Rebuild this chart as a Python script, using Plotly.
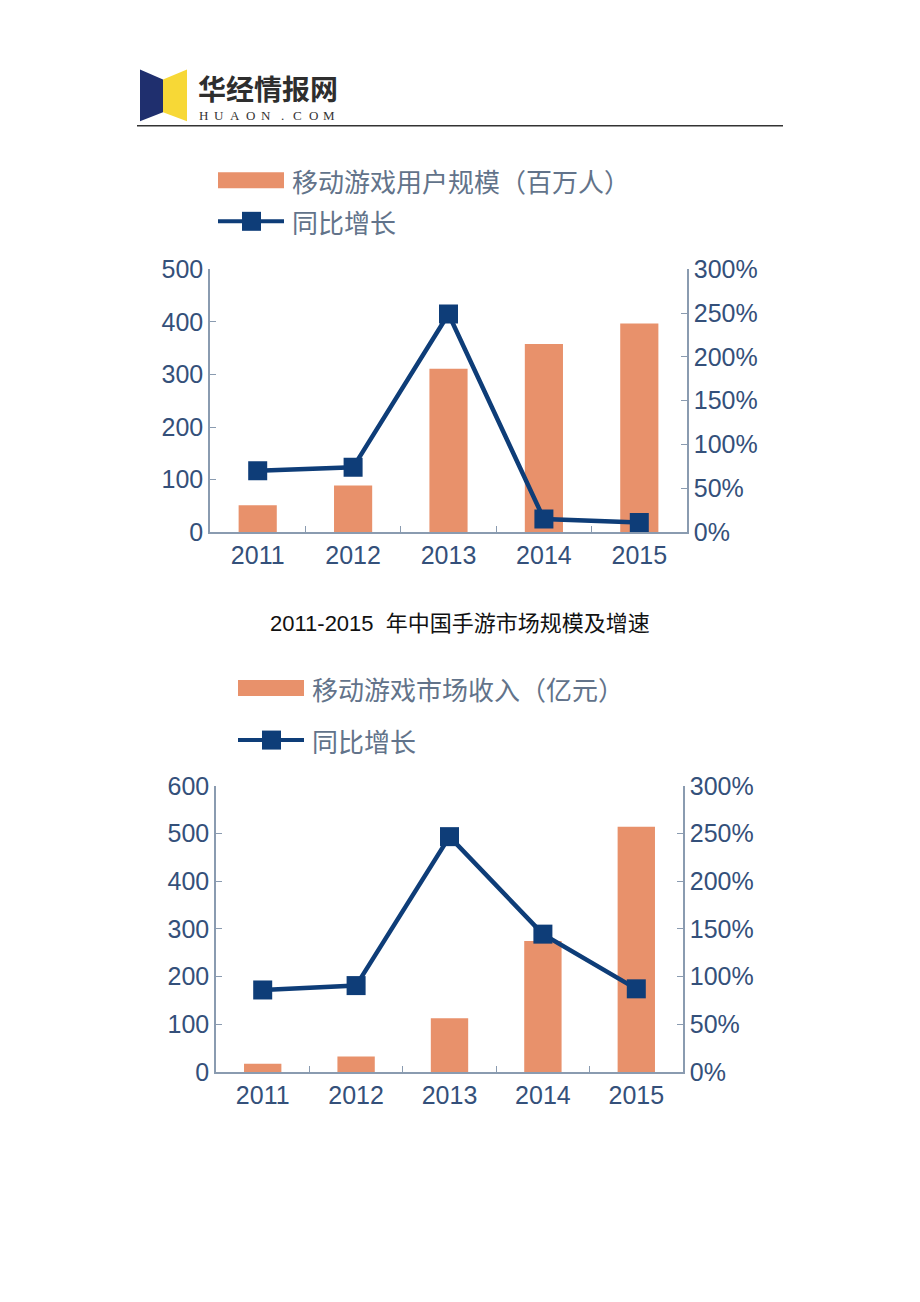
import plotly.graph_objects as go

W, H = 920, 1302

years = ["2011", "2012", "2013", "2014", "2015"]
users = [51, 89, 311, 358, 397]          # 移动游戏用户规模（百万人）
users_growth = [0.70, 0.74, 2.49, 0.15, 0.11]
revenue = [17, 32.4, 112.4, 274.9, 514.6]  # 移动游戏市场收入（亿元）
revenue_growth = [0.86, 0.906, 2.469, 1.446, 0.872]
logo_letters = list("HUAON.COM")

BAR = "#E8916B"
NAVY = "#0E3D78"
AXIS = "#8A9BB0"
TICK = "#34507A"
LEG = "#62738A"
FONT = "Liberation Sans, Arial, sans-serif"
CJK = "Noto Sans CJK SC"


def px(x):
    return x / W


def py(y):
    # compensate the observed vertical rendering scale
    y = y - (2.5 - 4.5 * (y - 125) / 947)
    t = (y - 10.56) / 0.9836
    return 1 - t / H


fig = go.Figure()

fig.add_trace(go.Bar(x=years, y=users, marker=dict(color=BAR, line=dict(width=0)),
                     xaxis="x", yaxis="y", showlegend=False))
fig.add_trace(go.Scatter(x=years, y=users_growth, mode="lines+markers",
                         line=dict(color=NAVY, width=4.5),
                         marker=dict(symbol="square", size=19, color=NAVY),
                         xaxis="x", yaxis="y2", showlegend=False))
fig.add_trace(go.Bar(x=years, y=revenue, marker=dict(color=BAR, line=dict(width=0)),
                     xaxis="x2", yaxis="y3", showlegend=False))
fig.add_trace(go.Scatter(x=years, y=revenue_growth, mode="lines+markers",
                         line=dict(color=NAVY, width=4.5),
                         marker=dict(symbol="square", size=19, color=NAVY),
                         xaxis="x2", yaxis="y4", showlegend=False))

tickfont = dict(family=FONT, size=25, color=TICK)

xcommon = dict(type="category", showline=True, linecolor=AXIS, linewidth=1.5,
               ticks="inside", tickson="boundaries", ticklen=6, tickcolor=AXIS,
               tickfont=tickfont, showgrid=False, zeroline=False, fixedrange=True)
ycommon = dict(showline=True, linecolor=AXIS, linewidth=1.5, ticks="inside",
               ticklen=6, tickcolor=AXIS, tickfont=tickfont, showgrid=False,
               zeroline=False, fixedrange=True)

top_dom = [py(532), py(269)]
bot_dom = [py(1072), py(786)]

fig.update_layout(
    width=W, height=H, autosize=False,
    margin=dict(l=0, r=0, t=0, b=0),
    paper_bgcolor="white", plot_bgcolor="white",
    bargap=0.6,
    xaxis=dict(domain=[px(210), px(687)], anchor="y", **xcommon),
    yaxis=dict(domain=top_dom, anchor="x", range=[0, 500], dtick=100, **ycommon),
    yaxis2=dict(domain=top_dom, anchor="x", overlaying="y", side="right",
                range=[0, 3], dtick=0.5, tickformat=".0%", **ycommon),
    xaxis2=dict(domain=[px(216), px(683)], anchor="y3", **xcommon),
    yaxis3=dict(domain=bot_dom, anchor="x2", range=[0, 600], dtick=100, **ycommon),
    yaxis4=dict(domain=bot_dom, anchor="x2", overlaying="y3", side="right",
                range=[0, 3], dtick=0.5, tickformat=".0%", **ycommon),
)

shapes = []
annotations = []

# Header logo
shapes.append(dict(type="path", xref="paper", yref="paper",
                   path=f"M {px(140)} {py(69)} L {px(163)} {py(79)} L {px(163)} {py(112)} L {px(140)} {py(121)} Z",
                   fillcolor="#1F2F6E", line=dict(width=0)))
shapes.append(dict(type="path", xref="paper", yref="paper",
                   path=f"M {px(163)} {py(79)} L {px(187)} {py(69)} L {px(187)} {py(121)} L {px(163)} {py(112)} Z",
                   fillcolor="#F7D836", line=dict(width=0)))
shapes.append(dict(type="line", xref="paper", yref="paper",
                   x0=px(137), x1=px(783), y0=py(125.5), y1=py(125.5),
                   line=dict(color="#333333", width=1.5)))
annotations.append(dict(text="<b>华经情报网</b>", x=px(196), y=py(88), xref="paper", yref="paper",
                        xanchor="left", yanchor="middle", showarrow=False,
                        font=dict(family=CJK, size=28, color="#2E2E2E")))
for i, ch in enumerate(logo_letters):
    annotations.append(dict(text=ch, x=px(203 + i * 15.8), y=py(115.5), xref="paper", yref="paper",
                            xanchor="center", yanchor="middle", showarrow=False,
                            font=dict(family="Liberation Serif, serif", size=13, color="#333333")))


def legend(x0, ybar, yline, label):
    shapes.append(dict(type="rect", xref="paper", yref="paper",
                       x0=px(x0), x1=px(x0 + 66), y0=py(ybar + 8), y1=py(ybar - 8),
                       fillcolor=BAR, line=dict(width=0)))
    shapes.append(dict(type="line", xref="paper", yref="paper",
                       x0=px(x0), x1=px(x0 + 66), y0=py(yline), y1=py(yline),
                       line=dict(color=NAVY, width=4)))
    shapes.append(dict(type="rect", xref="paper", yref="paper",
                       x0=px(x0 + 24), x1=px(x0 + 43), y0=py(yline + 9.5), y1=py(yline - 9.5),
                       fillcolor=NAVY, line=dict(width=0)))
    annotations.append(dict(text=label, x=px(x0 + 72), y=py(ybar), xref="paper", yref="paper",
                            xanchor="left", yanchor="middle", showarrow=False,
                            font=dict(family=CJK, size=26, color=LEG)))
    annotations.append(dict(text="同比增长", x=px(x0 + 72), y=py(yline), xref="paper", yref="paper",
                            xanchor="left", yanchor="middle", showarrow=False,
                            font=dict(family=CJK, size=26, color=LEG)))


legend(218, 180, 221, "移动游戏用户规模（百万人）")
legend(238, 688, 740, "移动游戏市场收入（亿元）")

annotations.append(dict(text="2011-2015  年中国手游市场规模及增速", x=px(460), y=py(623),
                        xref="paper", yref="paper", xanchor="center", yanchor="middle",
                        showarrow=False, font=dict(family="Liberation Sans, " + CJK, size=22, color="#111111")))

fig.update_layout(shapes=shapes, annotations=annotations)

fig.write_html("out.html")
